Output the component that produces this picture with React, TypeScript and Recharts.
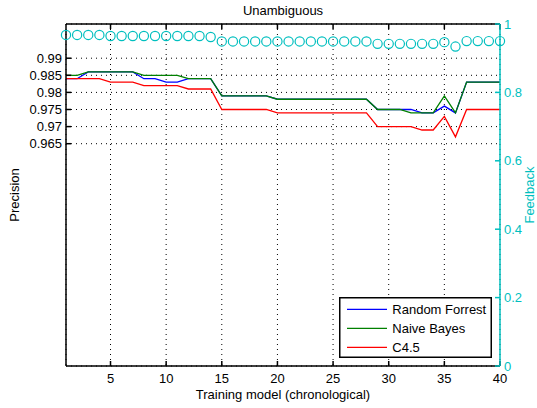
import React from 'react';
import { ComposedChart, Line, Scatter, XAxis, YAxis, CartesianGrid, Legend, Label } from 'recharts';

const FONT = '"Liberation Sans", Arial, Helvetica, sans-serif';
const CYAN = '#00BFBF';

// Training models (chronological)
const models = [1, 2, 3, 4, 5, 6, 7, 8, 9, 10, 11, 12, 13, 14, 15, 16, 17, 18, 19, 20,
  21, 22, 23, 24, 25, 26, 27, 28, 29, 30, 31, 32, 33, 34, 35, 36, 37, 38, 39, 40];

const randomForrest = [0.984, 0.984, 0.986, 0.986, 0.986, 0.986, 0.986, 0.984, 0.984, 0.983,
  0.983, 0.984, 0.984, 0.984, 0.979, 0.979, 0.979, 0.979, 0.979, 0.978,
  0.978, 0.978, 0.978, 0.978, 0.978, 0.978, 0.978, 0.978, 0.975, 0.975,
  0.975, 0.975, 0.974, 0.974, 0.976, 0.974, 0.983, 0.983, 0.983, 0.983];

const naiveBayes = [0.985, 0.985, 0.986, 0.986, 0.986, 0.986, 0.986, 0.985, 0.985, 0.985,
  0.985, 0.984, 0.984, 0.984, 0.979, 0.979, 0.979, 0.979, 0.979, 0.978,
  0.978, 0.978, 0.978, 0.978, 0.978, 0.978, 0.978, 0.978, 0.975, 0.975,
  0.975, 0.974, 0.974, 0.974, 0.979, 0.974, 0.983, 0.983, 0.983, 0.983];

const c45 = [0.984, 0.984, 0.984, 0.984, 0.983, 0.983, 0.983, 0.982, 0.982, 0.982,
  0.982, 0.981, 0.981, 0.981, 0.975, 0.975, 0.975, 0.975, 0.975, 0.974,
  0.974, 0.974, 0.974, 0.974, 0.974, 0.974, 0.974, 0.974, 0.970, 0.970,
  0.970, 0.970, 0.969, 0.969, 0.973, 0.967, 0.975, 0.975, 0.975, 0.975];

const feedback = [0.968, 0.968, 0.968, 0.968, 0.965, 0.965, 0.965, 0.965, 0.965, 0.965,
  0.965, 0.965, 0.965, 0.962, 0.949, 0.949, 0.949, 0.949, 0.949, 0.949,
  0.949, 0.949, 0.949, 0.949, 0.949, 0.949, 0.949, 0.949, 0.942, 0.942,
  0.942, 0.942, 0.942, 0.942, 0.947, 0.934, 0.950, 0.950, 0.950, 0.950];

const xTicks = [5, 10, 15, 20, 25, 30, 35, 40];
const precisionTicks = [0.965, 0.97, 0.975, 0.98, 0.985, 0.99];
const feedbackTicks = [0, 0.2, 0.4, 0.6, 0.8, 1];

const seriesKeys = ['rf', 'nb', 'c45'];
const seriesNames = ['Random Forrest', 'Naive Bayes', 'C4.5'];
const seriesColors = ['#0000FF', '#008000', '#FF0000'];

const data = models.map((m, i) => ({
  x: m,
  rf: randomForrest[i],
  nb: naiveBayes[i],
  c45: c45[i],
  fb: feedback[i],
}));

const LegendBox = (props: any) => {
  const items = (props.payload || [])
    .filter((p: any) => seriesNames.includes(p.value))
    .sort((a: any, b: any) => seriesNames.indexOf(a.value) - seriesNames.indexOf(b.value));
  return (
    <svg width={153} height={61} style={{ display: 'block' }}>
      <rect x={0.75} y={0.75} width={151.5} height={59.5} fill="#fff" stroke="#000" strokeWidth={1.5} />
      {items.map((p: any, i: number) => (
        <g key={p.value}>
          <line x1={8} x2={48} y1={12.3 + 19 * i} y2={12.3 + 19 * i} stroke={p.color} strokeWidth={1.2} />
          <text x={53.3} y={17 + 19 * i} fontSize={13} fontFamily={FONT} fill="#000">{p.value}</text>
        </g>
      ))}
    </svg>
  );
};

const Circle = (p: any) => (
  <circle cx={p.cx} cy={p.cy} r={4.6} fill="none" stroke={CYAN} strokeWidth={1.2} />
);

export default function App() {
  return (
    <div style={{ position: 'absolute', left: 0, top: 0 }}>
      <ComposedChart
        width={537}
        height={408}
        data={data}
        margin={{ top: 0, right: 0, bottom: 0, left: 0 }}
        style={{ fontFamily: FONT }}
      >
        <CartesianGrid xAxisId="b" yAxisId="l" stroke="#000" strokeDasharray="1 4" strokeWidth={1} />
        <XAxis
          xAxisId="b"
          dataKey="x"
          type="number"
          domain={[1, 40]}
          ticks={xTicks}
          interval={0}
          height={42}
          tickSize={-5}
          tickMargin={13}
          stroke="#000"
          strokeWidth={1.5}
          tick={{ fontSize: 13, fill: '#000', fontFamily: FONT }}
        >
          <Label
            content={(p: any) => (
              <text x={p.viewBox.x + p.viewBox.width / 2} y={p.viewBox.y + 32.5} textAnchor="middle" fontSize={13} fontFamily={FONT} fill="#000">
                Training model (chronological)
              </text>
            )}
          />
        </XAxis>
        <XAxis
          xAxisId="t"
          orientation="top"
          dataKey="x"
          type="number"
          domain={[1, 40]}
          ticks={xTicks}
          interval={0}
          height={24}
          tickSize={-5}
          tickFormatter={() => ''}
          stroke="#000"
          strokeWidth={1.5}
        >
          <Label
            content={(p: any) => (
              <text x={p.viewBox.x + p.viewBox.width / 2} y={p.viewBox.y + 14.5} textAnchor="middle" fontSize={13} fontFamily={FONT} fill="#000">
                Unambiguous
              </text>
            )}
          />
        </XAxis>
        <YAxis
          yAxisId="l"
          type="number"
          domain={[0.9, 1]}
          ticks={precisionTicks}
          interval={0}
          width={66}
          tickSize={-5}
          tickMargin={9}
          stroke="#000"
          strokeWidth={1.5}
          tick={{ fontSize: 13, fill: '#000', fontFamily: FONT }}
        >
          <Label
            content={(p: any) => {
              const cx = p.viewBox.x + 18.5;
              const cy = p.viewBox.y + p.viewBox.height / 2;
              return (
                <text x={cx} y={cy} transform={`rotate(-90, ${cx}, ${cy})`} textAnchor="middle" fontSize={13} fontFamily={FONT} fill="#000">
                  Precision
                </text>
              );
            }}
          />
        </YAxis>
        <YAxis
          yAxisId="l2"
          orientation="right"
          type="number"
          domain={[0.9, 1]}
          ticks={precisionTicks}
          interval={0}
          width={0}
          tickSize={-5}
          axisLine={false}
          tickFormatter={() => ''}
          stroke="#000"
        />
        <YAxis
          yAxisId="r"
          orientation="right"
          type="number"
          domain={[0, 1]}
          ticks={feedbackTicks}
          interval={0}
          width={37}
          tickSize={-5}
          tickMargin={9}
          stroke={CYAN}
          strokeWidth={1.5}
          tick={{ fontSize: 13, fill: CYAN, fontFamily: FONT }}
        >
          <Label
            content={(p: any) => {
              const cx = p.viewBox.x + p.viewBox.width - 3.5;
              const cy = p.viewBox.y + p.viewBox.height / 2;
              return (
                <text x={cx} y={cy} transform={`rotate(-90, ${cx}, ${cy})`} textAnchor="middle" fontSize={13} fontFamily={FONT} fill={CYAN}>
                  Feedback
                </text>
              );
            }}
          />
        </YAxis>
        {seriesKeys.map((k, i) => (
          <Line
            key={k}
            xAxisId="b"
            yAxisId="l"
            type="linear"
            dataKey={k}
            name={seriesNames[i]}
            stroke={seriesColors[i]}
            strokeWidth={1.3}
            dot={false}
            activeDot={false}
            isAnimationActive={false}
          />
        ))}
        <Scatter
          xAxisId="b"
          yAxisId="r"
          dataKey="fb"
          name="Feedback"
          legendType="none"
          shape={Circle}
          isAnimationActive={false}
        />
        <Legend
          layout="horizontal"
          verticalAlign="middle"
          align="center"
          wrapperStyle={{ position: 'absolute', left: 339, top: 297, width: 153, height: 61 }}
          content={LegendBox}
        />
      </ComposedChart>
    </div>
  );
}
